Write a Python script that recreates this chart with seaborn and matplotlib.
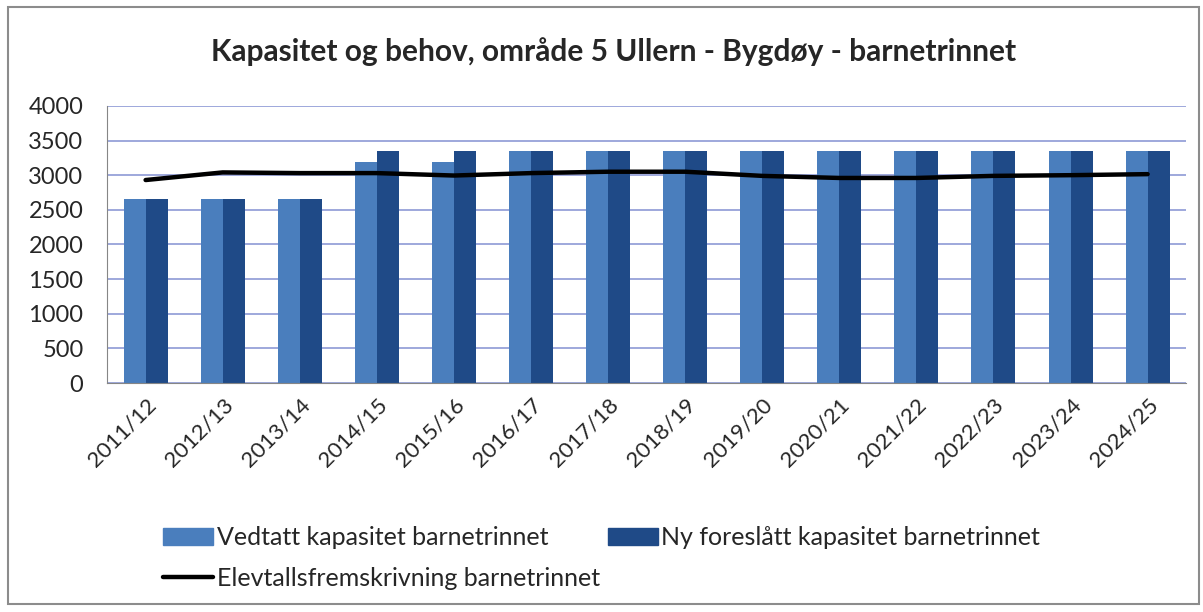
import numpy as np
import pandas as pd
import seaborn as sns
import matplotlib.pyplot as plt
from matplotlib.patches import Rectangle
from matplotlib.lines import Line2D
from matplotlib.ticker import FixedLocator

perioder = ["2011/12", "2012/13", "2013/14", "2014/15", "2015/16", "2016/17", "2017/18",
            "2018/19", "2019/20", "2020/21", "2021/22", "2022/23", "2023/24", "2024/25"]
vedtatt = [2650, 2650, 2650, 3190, 3190, 3350, 3350, 3350, 3350, 3350, 3350, 3350, 3350, 3350]
ny_foreslatt = [2650, 2650, 2650, 3350, 3350, 3350, 3350, 3350, 3350, 3350, 3350, 3350, 3350, 3350]
elevtall = [2930, 3040, 3030, 3030, 2995, 3030, 3050, 3050, 2990, 2960, 2960, 2990, 3000, 3015]

lbl_vedtatt = "Vedtatt kapasitet barnetrinnet"
lbl_ny = "Ny foreslått kapasitet barnetrinnet"
lbl_elev = "Elevtallsfremskrivning barnetrinnet"

sns.set_style("white")
plt.rcParams['font.family'] = ['Lato', 'DejaVu Sans']

df = pd.DataFrame({
    "periode": perioder * 2,
    "kapasitet": vedtatt + ny_foreslatt,
    "serie": [lbl_vedtatt] * len(perioder) + [lbl_ny] * len(perioder),
})

fig = plt.figure(figsize=(12.03, 6.12), dpi=100)
ax = fig.add_axes([0.089, 0.374, 0.897, 0.453])

sns.barplot(data=df, x="periode", y="kapasitet", hue="serie", order=perioder,
            palette=["#4a7ebd", "#1f4a87"], width=0.57, gap=0, saturation=1,
            edgecolor="none", ax=ax, legend=False)
sns.lineplot(x=np.arange(len(perioder)), y=elevtall, color="black", linewidth=3.2,
             ax=ax, legend=False)

ax.set_xlim(-0.5, len(perioder) - 0.5)
ax.set_ylim(0, 4000)
ax.set_yticks(range(0, 4001, 500))
ax.yaxis.grid(True, color="#8e9ad6", linewidth=1.2)
ax.set_axisbelow(True)
ax.set_xlabel("")
ax.set_ylabel("")
for s in ["top", "right"]:
    ax.spines[s].set_visible(False)
for s in ["left", "bottom"]:
    ax.spines[s].set_color("#868686")

ax.set_xticks(range(len(perioder)))
ax.set_xticklabels(perioder, rotation=45, ha="right", rotation_mode="anchor", fontsize=16)
ax.tick_params(axis="x", which="major", length=0, pad=8)
ax.xaxis.set_minor_locator(FixedLocator(np.arange(-0.5, len(perioder), 1.0)))
ax.tick_params(axis="x", which="minor", length=6, color="#868686", direction="out")
ax.tick_params(axis="y", length=5, color="#868686", direction="out", labelsize=17, pad=12)

fig.suptitle("Kapasitet og behov, område 5 Ullern - Bygdøy - barnetrinnet",
             x=0.51, y=0.94, fontsize=21.5, fontweight="bold")

handles = [
    Rectangle((0, 0), 1, 1, color="#4a7ebd"),
    Line2D([0], [0], color="black", linewidth=3.2),
    Rectangle((0, 0), 1, 1, color="#1f4a87"),
]
fig.legend(handles, [lbl_vedtatt, lbl_elev, lbl_ny], ncol=2, frameon=False,
           loc="lower left", bbox_to_anchor=(0.117, 0.0), fontsize=18,
           handlelength=2.0, handletextpad=0.15, columnspacing=0.3, labelspacing=0.7)

fig.patches.append(Rectangle((0.007, 0.013), 0.99, 0.975, transform=fig.transFigure,
                             fill=False, edgecolor="#8c8c8c", linewidth=1.5))

fig.savefig("out.png", dpi=100)
